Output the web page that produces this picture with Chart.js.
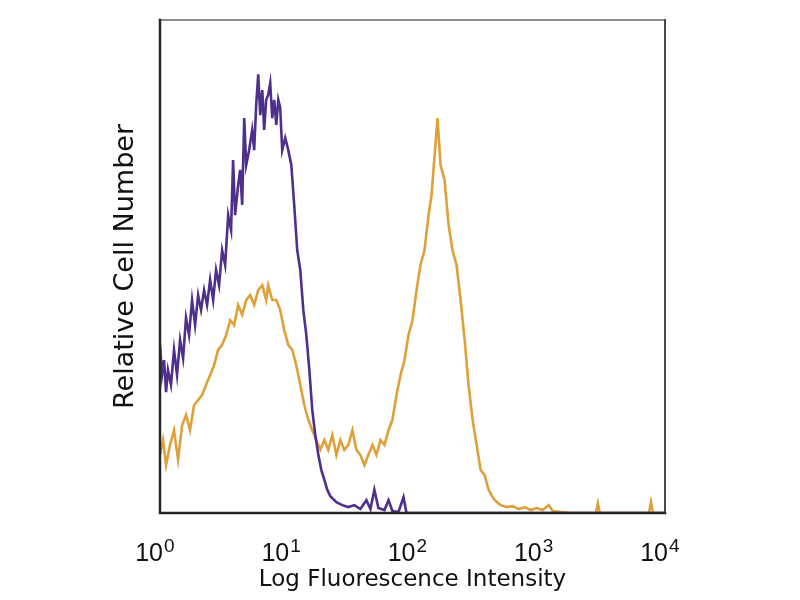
<!DOCTYPE html>
<html>
<head>
<meta charset="utf-8">
<script src="https://cdn.jsdelivr.net/npm/chart.js@4.4.1/dist/chart.umd.min.js"></script>
<style>
  html, body { margin: 0; padding: 0; background: #ffffff; }
  #wrap { width: 800px; height: 600px; position: relative; }
</style>
</head>
<body>
<div id="wrap"><canvas id="c" width="800" height="600"></canvas></div>
<script>
// x values are log10(fluorescence intensity), decades 0..4
const tickDecades = [0, 1, 2, 3, 4];
const tickBase = '10';
const tickExponents = ['0', '1', '2', '3', '4'];
const xTitle = 'Log Fluorescence Intensity';
const yTitle = 'Relative Cell Number';

const purpleX = [0.000,0.016,0.032,0.048,0.063,0.087,0.111,0.135,0.159,0.183,0.206,0.230,0.254,0.278,0.302,0.325,0.349,0.373,0.397,0.421,0.444,0.468,0.492,0.516,0.540,0.563,0.579,0.595,0.619,0.635,0.651,0.667,0.683,0.706,0.730,0.746,0.762,0.778,0.794,0.810,0.825,0.841,0.857,0.873,0.889,0.905,0.921,0.937,0.952,0.968,0.992,1.016,1.040,1.063,1.087,1.111,1.135,1.159,1.183,1.206,1.230,1.254,1.278,1.302,1.325,1.349,1.397,1.444,1.492,1.540,1.587,1.635,1.667,1.698,1.730,1.778,1.810,1.841,1.889,1.929,1.952,4.000];
const purpleY = [34.1,28.0,31.0,24.5,29.0,26.0,33.1,28.0,35.1,31.4,39.6,36.1,43.2,38.1,44.2,41.2,45.2,42.2,47.3,43.2,49.3,46.2,53.3,50.3,60.4,57.4,71.6,60.4,66.5,69.6,62.5,80.1,70.6,73.6,77.7,73.6,82.8,89.0,80.7,85.8,77.7,83.8,84.8,87.2,80.1,83.8,78.7,83.8,82.2,73.6,76.1,73.6,70.6,62.5,53.3,49.3,41.2,36.1,29.0,20.9,15.8,11.8,8.7,6.7,4.7,3.4,2.2,1.6,1.2,1.6,0.8,2.6,0.8,4.7,1.0,0.6,2.6,0.4,0.2,3.2,0,0];

const orangeX = [0,0.024,0.048,0.079,0.111,0.143,0.175,0.206,0.238,0.270,0.302,0.333,0.365,0.397,0.429,0.460,0.492,0.524,0.556,0.587,0.619,0.651,0.683,0.714,0.746,0.778,0.810,0.841,0.857,0.889,0.921,0.952,0.984,1.016,1.048,1.079,1.111,1.143,1.175,1.206,1.238,1.270,1.302,1.333,1.365,1.397,1.429,1.460,1.492,1.524,1.556,1.587,1.619,1.651,1.683,1.714,1.746,1.778,1.810,1.841,1.873,1.905,1.937,1.968,2.000,2.032,2.063,2.095,2.127,2.151,2.175,2.198,2.222,2.254,2.286,2.317,2.349,2.381,2.413,2.444,2.476,2.508,2.540,2.571,2.603,2.635,2.667,2.698,2.746,2.794,2.841,2.889,2.937,2.984,3.032,3.079,3.111,3.175,3.254,3.452,3.468,3.484,3.873,3.889,3.905,4.0];
const orangeY = [11.8,14.8,9.7,13.8,16.8,10.8,17.8,19.9,16.8,21.9,22.9,23.9,26.0,28.0,30.0,33.1,34.1,36.1,39.1,38.1,42.2,40.2,43.2,44.2,42.2,45.2,46.2,43.2,46.2,43.2,43.2,41.2,37.1,34.1,33.1,30.0,26.0,21.9,18.9,16.8,14.8,12.8,14.8,12.8,15.8,11.8,14.8,12.8,13.8,16.8,12.8,11.8,9.7,11.8,13.8,11.8,14.8,13.8,16.8,18.9,23.9,28.0,31.0,36.1,39.1,45.2,50.3,53.3,60.4,64.5,72.6,80.1,70.6,67.5,58.4,53.3,50.3,43.2,35.1,26.0,18.9,13.8,8.7,7.7,4.7,3.2,2.2,1.6,1.2,1.4,0.8,1.2,0.6,1.0,0.6,1.6,0.4,0.2,0,0,2.0,0,0,2.2,0,0];

const toPoints = (xs, ys) => xs.map((x, i) => ({ x: x, y: ys[i] }));

const frame = {
  id: 'frame',
  afterDatasetsDraw(chart) {
    const { ctx, chartArea: a } = chart;
    ctx.save();
    ctx.lineCap = 'square';
    ctx.strokeStyle = '#8c8c8c'; ctx.lineWidth = 2;
    ctx.beginPath(); ctx.moveTo(a.left, a.top); ctx.lineTo(a.right, a.top); ctx.stroke();
    ctx.strokeStyle = '#4a4a4a';
    ctx.beginPath(); ctx.moveTo(a.right, a.top); ctx.lineTo(a.right, a.bottom); ctx.stroke();
    ctx.strokeStyle = '#262626'; ctx.lineWidth = 2.5;
    ctx.beginPath(); ctx.moveTo(a.left, a.top); ctx.lineTo(a.left, a.bottom); ctx.lineTo(a.right, a.bottom); ctx.stroke();
    ctx.restore();
  },
  afterDraw(chart) {
    // power-of-ten tick labels with raised exponents, placed by the x scale
    const { ctx } = chart;
    const xs = chart.scales.x;
    const base = chart.chartArea.bottom + 48;
    ctx.save();
    ctx.fillStyle = '#111';
    ctx.textBaseline = 'alphabetic';
    tickDecades.forEach((v, i) => {
      const px = xs.getPixelForValue(v);
      ctx.font = '25px "Liberation Sans Narrow", "Liberation Sans", sans-serif';
      ctx.textAlign = 'right';
      ctx.fillText(tickBase, px + 3, base);
      ctx.font = '19px "Liberation Sans Narrow", "Liberation Sans", sans-serif';
      ctx.textAlign = 'left';
      ctx.fillText(tickExponents[i], px + 4, base - 9);
    });
    ctx.restore();
  }
};

new Chart(document.getElementById('c'), {
  type: 'line',
  data: {
    datasets: [
      { label: 'Isotype', data: toPoints(purpleX, purpleY), borderColor: '#4e2f8c', borderWidth: 2.6, pointRadius: 0, tension: 0, fill: false },
      { label: 'Stained', data: toPoints(orangeX, orangeY), borderColor: '#dfa03a', borderWidth: 2.6, pointRadius: 0, tension: 0, fill: false }
    ]
  },
  options: {
    responsive: false,
    animation: false,
    events: [],
    layout: { padding: { left: 110, right: 135, top: 20, bottom: 4 } },
    plugins: { legend: { display: false }, tooltip: { enabled: false } },
    scales: {
      x: {
        type: 'linear', min: 0, max: 4,
        grid: { display: false, drawTicks: false },
        border: { display: false },
        afterBuildTicks(axis) { axis.ticks = tickDecades.map(v => ({ value: v })); },
        afterFit(axis) { axis.height = 83; },
        ticks: { display: false },
        title: { display: true, text: xTitle, color: '#111', font: { family: 'DejaVu Sans', size: 23 }, padding: { top: 0, bottom: 2 } }
      },
      y: {
        min: 0, max: 100,
        grid: { display: false, drawTicks: false },
        border: { display: false },
        ticks: { display: false },
        afterFit(axis) { axis.width = 50; },
        title: { display: true, text: yTitle, color: '#111', font: { family: 'DejaVu Sans', size: 27 }, padding: { top: 0, bottom: 0 } }
      }
    }
  },
  plugins: [frame]
});
</script>
</body>
</html>
